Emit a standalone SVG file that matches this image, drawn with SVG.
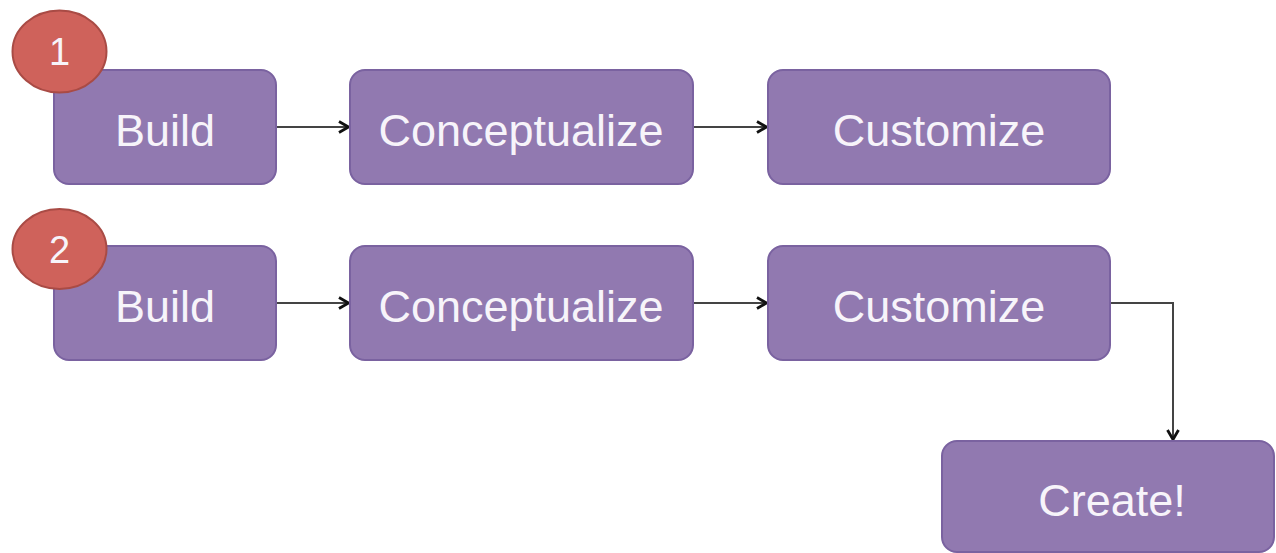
<svg xmlns="http://www.w3.org/2000/svg" width="1276" height="553" viewBox="0 0 1276 553">
  <style>
    .box { fill: #9179b0; stroke: #7a62a0; stroke-width: 2; }
    .lbl { fill: #f7f4fa; font-family: "Liberation Sans", Arial, sans-serif; font-size: 45px; text-anchor: middle; }
    .badge { fill: #cf625b; stroke: #a94b45; stroke-width: 2; }
    .num { fill: #f7f4fa; font-family: "Liberation Sans", Arial, sans-serif; font-size: 38px; text-anchor: middle; }
    .edge { fill: none; stroke: #444444; stroke-width: 2; marker-end: url(#arrow); }
  </style>
  <defs>
    <marker id="arrow" viewBox="0 0 14 14" refX="13" refY="7" markerWidth="14" markerHeight="14" markerUnits="userSpaceOnUse" orient="auto">
      <path d="M3,1.5 L12.5,7 L3,12.5" fill="none" stroke="#111111" stroke-width="2.8"/>
    </marker>
  </defs>
  <rect width="1276" height="553" fill="#ffffff"/>

  <g id="connectors">
    <path class="edge" d="M277,127 L349,127"/>
    <path class="edge" d="M694,127 L767,127"/>
    <path class="edge" d="M277,303 L349,303"/>
    <path class="edge" d="M694,303 L767,303"/>
    <path class="edge" d="M1111,303 L1173,303 L1173,440"/>
  </g>

  <g id="build1">
    <rect class="box" x="54" y="70" width="222" height="114" rx="15"/>
    <text class="lbl" x="165" y="146">Build</text>
  </g>
  <g id="conceptualize1">
    <rect class="box" x="350" y="70" width="343" height="114" rx="15"/>
    <text class="lbl" x="521" y="146">Conceptualize</text>
  </g>
  <g id="customize1">
    <rect class="box" x="768" y="70" width="342" height="114" rx="15"/>
    <text class="lbl" x="939" y="146">Customize</text>
  </g>
  <g id="badge1">
    <ellipse class="badge" cx="59.5" cy="51.5" rx="47" ry="41"/>
    <text class="num" x="59.5" y="65">1</text>
  </g>

  <g id="build2">
    <rect class="box" x="54" y="246" width="222" height="114" rx="15"/>
    <text class="lbl" x="165" y="322">Build</text>
  </g>
  <g id="conceptualize2">
    <rect class="box" x="350" y="246" width="343" height="114" rx="15"/>
    <text class="lbl" x="521" y="322">Conceptualize</text>
  </g>
  <g id="customize2">
    <rect class="box" x="768" y="246" width="342" height="114" rx="15"/>
    <text class="lbl" x="939" y="322">Customize</text>
  </g>
  <g id="badge2">
    <ellipse class="badge" cx="59.5" cy="249" rx="47" ry="40"/>
    <text class="num" x="59.5" y="263">2</text>
  </g>

  <g id="create">
    <rect class="box" x="942" y="441" width="332" height="111" rx="15"/>
    <text class="lbl" x="1112" y="516">Create!</text>
  </g>
</svg>
